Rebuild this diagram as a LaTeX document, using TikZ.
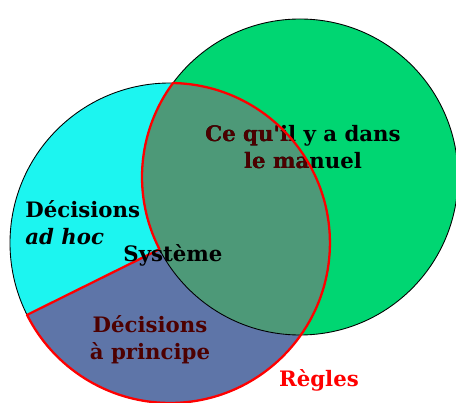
\documentclass[tikz,border=0pt]{standalone}
\usepackage{fontspec}
\setmainfont{DejaVu Serif}[Ligatures=TeXOff]
\usetikzlibrary{calc}
\definecolor{adhoc}{HTML}{1CF5F0}
\definecolor{manuel}{HTML}{00D672}
\definecolor{commun}{HTML}{4D9978}
\definecolor{principe}{HTML}{5E75A8}
\definecolor{brun}{HTML}{4D0000}

\begin{document}
\begin{tikzpicture}[x=0.02cm, y=0.02cm,
    label/.style={inner sep=0pt, font=\fontsize{12.1}{15.3}\selectfont\bfseries},
    trait/.style={draw=black, line width=0.5pt},
    regles/.style={draw=red, line width=1.3pt, line join=round}]
            \useasboundingbox (0, 0) rectangle (456, 402);
            % centres des deux cercles
            \coordinate (cyanC) at (170, 159);
            \coordinate (greenC) at (300, 225);
            \coordinate (V) at ($(greenC)+(207.2:158)$);
            \coordinate (L) at ($(cyanC)+(206.7:160)$);
            \coordinate (B) at ($(greenC)+(270.3:158)$);

            \fill[manuel] (greenC) circle[radius=158];
            \fill[adhoc] (cyanC) circle[radius=160];
            \begin{scope}
                \clip (cyanC) circle[radius=160];
                \fill[commun] (greenC) circle[radius=158];
            \end{scope}
            \fill[principe] (V) -- (L) arc[start angle=206.7, end angle=324.9, radius=160]
                arc[start angle=270.3, end angle=207.2, radius=158] -- cycle;
            \draw[trait] (greenC) circle[radius=158];
            \draw[trait] (cyanC) circle[radius=160];

            \node[label, align=center, anchor=north] (manuel) at (303, 277) {Ce qu'il y a dans\\le manuel};
            \begin{scope}
                \clip (L) -- (V) arc[start angle=207.2, end angle=143.5, radius=158]
                    arc[start angle=88.9, end angle=-153.3, radius=160] -- cycle;
                \node[label, align=center, anchor=north, text=brun] at (303, 277) {Ce qu'il y a dans\\le manuel};
            \end{scope}
            \node[label, align=left, anchor=north west] (adhoc) at (25, 202) {Décisions\\\textit{ad hoc}};
            \node[label, align=center, anchor=north, text=brun] (principe) at (150, 87) {Décisions\\à principe};

            \draw[regles] (L) -- (V) arc[start angle=207.2, end angle=143.5, radius=158]
                arc[start angle=88.9, end angle=-153.3, radius=160] -- cycle;

            \node[label, anchor=base] (systeme) at (173, 140) {Système};
            \node[label, anchor=base, text=red] (regles) at (319, 15) {Règles};
        \end{tikzpicture}
\end{document}
